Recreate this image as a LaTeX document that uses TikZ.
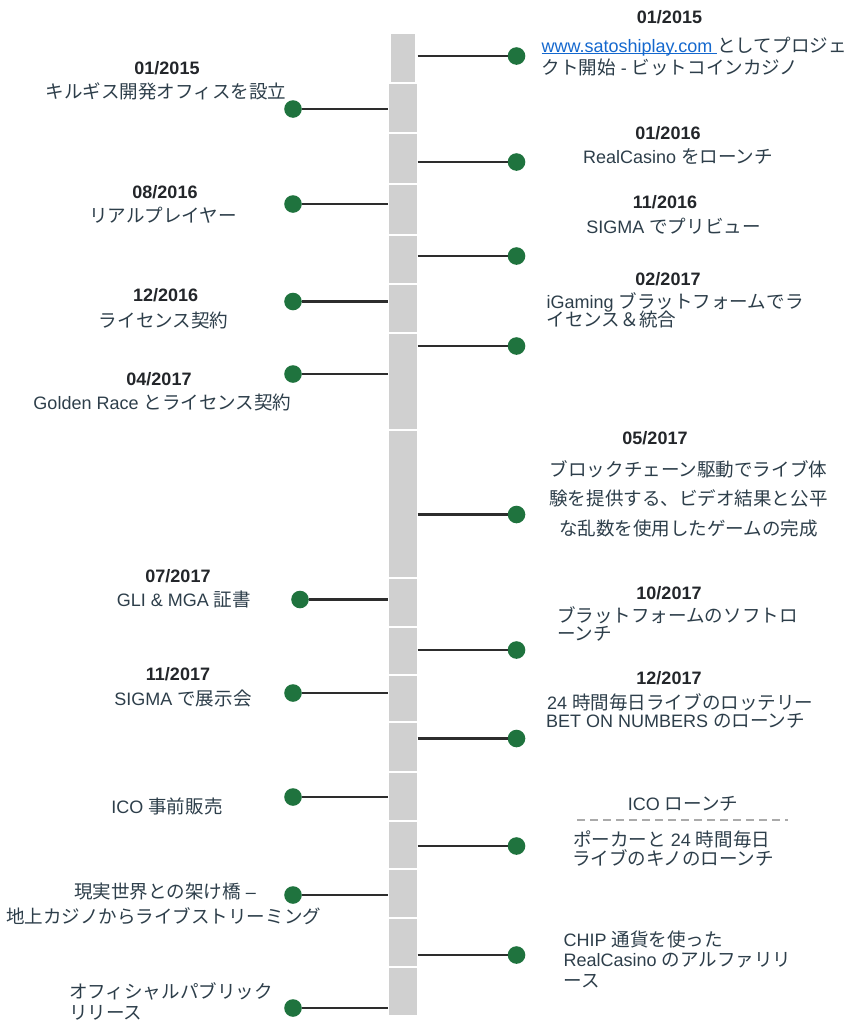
\documentclass[tikz,border=0pt]{standalone}
\usepackage{fontspec}
\setmainfont{Liberation Sans}
\newfontfamily\jpf{Noto Sans CJK JP}[Scale=1.03]
\newcommand\J[1]{{\jpf #1}}
\newcommand\ulink[1]{{\color{linkc}\setbox0\hbox{#1}\rlap{\rule[-1.6pt]{\wd0}{1.1pt}}\box0}}
\definecolor{barc}{RGB}{208,208,208}
\definecolor{linec}{RGB}{45,45,45}
\definecolor{dotc}{RGB}{31,115,62}
\definecolor{datec}{RGB}{35,38,42}
\definecolor{bodyc}{RGB}{45,62,74}
\definecolor{linkc}{RGB}{20,104,206}
\definecolor{dashc}{RGB}{170,170,170}
\begin{document}
\begin{tikzpicture}[x=1pt,y=-1pt,
  seg/.style={fill=barc, draw=none, minimum width=28pt, inner sep=0pt, anchor=north},
  datelbl/.style={font=\fontsize{18}{22}\selectfont\bfseries, text=datec, inner sep=0pt, anchor=base},
  body/.style={font=\fontsize{18}{22}\selectfont, text=bodyc, inner sep=0pt, anchor=base},
  bodyl/.style={body, anchor=base west},
  evdot/.style={circle, fill=dotc, minimum size=17.6pt, inner sep=0pt},
  conn/.style={draw=linec, line width=2.8pt}]
\useasboundingbox (0,0) rectangle (856,1023);

% ---- vertical bar segments ----
\node[seg, minimum width=24pt, minimum height=47.7pt] (s1) at (403,34) {};
\node[seg, minimum height=48.3pt] (s2) at (403,83.7) {};
\node[seg, minimum height=49pt] (s3) at (403,134) {};
\node[seg, minimum height=49pt] (s4) at (403,185) {};
\node[seg, minimum height=47pt] (s5) at (403,236) {};
\node[seg, minimum height=47pt] (s6) at (403,285) {};
\node[seg, minimum height=95pt] (s7) at (403,334) {};
\node[seg, minimum height=145.7pt] (s8) at (403,431) {};
\node[seg, minimum height=47.3pt] (s9) at (403,578.7) {};
\node[seg, minimum height=46pt] (s10) at (403,628) {};
\node[seg, minimum height=45pt] (s11) at (403,676) {};
\node[seg, minimum height=48pt] (s12) at (403,723) {};
\node[seg, minimum height=47pt] (s13) at (403,773) {};
\node[seg, minimum height=46pt] (s14) at (403,822) {};
\node[seg, minimum height=47pt] (s15) at (403,870) {};
\node[seg, minimum height=47pt] (s16) at (403,919) {};
\node[seg, minimum height=47pt] (s17) at (403,968) {};

\coordinate (barL) at (388.3,0);
\coordinate (barR) at (417.7,0);

% ---- dots ----
\node[evdot] (R1) at (516.5,56) {};
\node[evdot] (R2) at (516.5,162) {};
\node[evdot] (R3) at (516.5,256) {};
\node[evdot] (R4) at (516.5,346) {};
\node[evdot] (R5) at (516.5,514.5) {};
\node[evdot] (R6) at (516.5,650) {};
\node[evdot] (R7) at (516.5,738.5) {};
\node[evdot] (R8) at (516.5,846) {};
\node[evdot] (R9) at (516.5,955) {};
\node[evdot] (L1) at (293,109) {};
\node[evdot] (L2) at (293,204) {};
\node[evdot] (L3) at (293,301.5) {};
\node[evdot] (L4) at (293,374) {};
\node[evdot] (L5) at (300,599.5) {};
\node[evdot] (L6) at (293,693) {};
\node[evdot] (L7) at (293,797) {};
\node[evdot] (L8) at (293,895) {};
\node[evdot] (L9) at (293,1008) {};

% ---- connectors ----
\foreach \d in {R1,R2,R3,R4,R5,R6,R7,R8,R9}
  \draw[conn] (barR |- \d) -- (\d.west);
\foreach \d in {L1,L2,L3,L4,L5,L6,L7,L8,L9}
  \draw[conn] (\d.east) -- (barL |- \d);

% ---- right column texts ----
\node[datelbl] (r1d) at (669.5,23.3) {01/2015};
\node[bodyl] (r1a) at (541.5,52.5) {\ulink{www.satoshiplay.com\ }\J{としてプロジェ}};
\node[bodyl] (r1b) at (541.5,74.5) {\J{クト開始} - \J{ビットコインカジノ}};

\node[datelbl] (r2d) at (668,139.3) {01/2016};
\node[body] (r2a) at (678,163.3) {RealCasino \J{をローンチ}};

\node[datelbl] (r3d) at (665,208.3) {11/2016};
\node[body] (r3a) at (673.5,233) {SIGMA \J{でプリビュー}};

\node[datelbl] (r4d) at (668,285) {02/2017};
\node[bodyl] (r4a) at (546.5,308.3) {iGaming \J{ブラットフォームでラ}};
\node[bodyl] (r4b) at (546.5,326.8) {\J{イセンス＆統合}};

\node[datelbl] (r5d) at (655,444) {05/2017};
\node[body] (r5a) at (688.5,476.5) {\J{ブロックチェーン駆動でライブ体}};
\node[body] (r5b) at (688.5,505.5) {\J{験を提供する、ビデオ結果と公平}};
\node[body] (r5c) at (688.5,535) {\J{な乱数を使用したゲームの完成}};

\node[datelbl] (r6d) at (669,599.3) {10/2017};
\node[bodyl] (r6a) at (557,622.5) {\J{ブラットフォームのソフトロ}};
\node[bodyl] (r6b) at (557,640.3) {\J{ーンチ}};

\node[datelbl] (r7d) at (669,684) {12/2017};
\node[bodyl] (r7a) at (547,709.3) {24 \J{時間毎日ライブのロッテリー}};
\node[bodyl] (r7b) at (546,727) {BET ON NUMBERS \J{のローンチ}};

\node[body] (r8h) at (683,810.7) {ICO \J{ローンチ}};
\draw[dashc, line width=1.3pt, dash pattern=on 8pt off 5pt] (577,820) -- (788,820);
\node[bodyl] (r8a) at (573,846) {\J{ポーカーと} 24 \J{時間毎日}};
\node[bodyl] (r8b) at (572,865.5) {\J{ライブのキノのローンチ}};

\node[bodyl] (r9a) at (563.5,946) {CHIP \J{通貨を使った}};
\node[bodyl] (r9b) at (563.5,966.7) {RealCasino \J{のアルファリリ}};
\node[bodyl] (r9c) at (563.5,987) {\J{ース}};

% ---- left column texts ----
\node[datelbl] (l1d) at (167,74) {01/2015};
\node[body] (l1a) at (166,98.5) {\J{キルギス開発オフィスを設立}};

\node[datelbl] (l2d) at (165,198.3) {08/2016};
\node[body] (l2a) at (163,222) {\J{リアルプレイヤー}};

\node[datelbl] (l3d) at (165.7,301.7) {12/2016};
\node[body] (l3a) at (163.7,327) {\J{ライセンス契約}};

\node[datelbl] (l4d) at (159,385) {04/2017};
\node[body] (l4a) at (162.5,409.3) {Golden Race \J{とライセンス契約}};

\node[datelbl] (l5d) at (178,582.7) {07/2017};
\node[body] (l5a) at (184,606.7) {GLI \& MGA \J{証書}};

\node[datelbl] (l6d) at (178,680.7) {11/2017};
\node[body] (l6a) at (183,705) {SIGMA \J{で展示会}};

\node[body] (l7a) at (167,813.3) {ICO \J{事前販売}};

\node[body] (l8a) at (165,898.5) {\J{現実世界との架け橋} –};
\node[body] (l8b) at (163.7,923.5) {\J{地上カジノからライブストリーミング}};

\node[bodyl] (l9a) at (69,998) {\J{オフィシャルパブリック}};
\node[bodyl] (l9b) at (69,1019) {\J{リリース}};
\end{tikzpicture}
\end{document}
